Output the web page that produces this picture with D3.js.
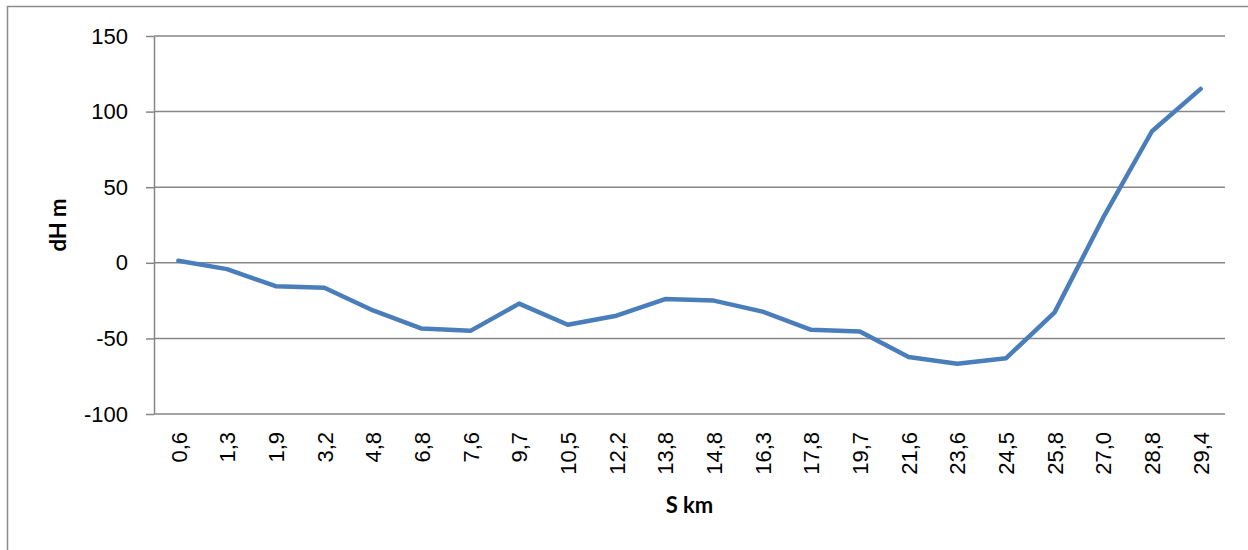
<!DOCTYPE html>
<html>
<head>
<meta charset="utf-8">
<script src="https://cdn.jsdelivr.net/npm/d3@7"></script>
<style>
  body { margin: 0; background: #fff; }
  svg { display: block; font-family: Lato, 'Open Sans', sans-serif; }
</style>
</head>
<body>
<div id="chart"></div>
<script>
const categories = ['0,6', '1,3', '1,9', '3,2', '4,8', '6,8', '7,6', '9,7', '10,5', '12,2', '13,8',
  '14,8', '16,3', '17,8', '19,7', '21,6', '23,6', '24,5', '25,8', '27,0', '28,8', '29,4'];
const dH = [1.3, -4.2, -15.5, -16.5, -31.5, -43.5, -45, -27, -41, -35, -24,
  -25, -32.3, -44.3, -45.5, -62.3, -66.7, -63.2, -32.8, 30, 87, 115];
const yTicks = [-100, -50, 0, 50, 100, 150];

const dims = { width: 1248, height: 550 };
const plot = { left: 154, right: 1225, top: 36, bottom: 414 };

const svg = d3.select('#chart')
  .append('svg')
  .attr('width', dims.width)
  .attr('height', dims.height)

// outer chart frame (cropped on right and bottom)
svg.append('rect')
  .attr('x', 7.5).attr('y', 6.5)
  .attr('width', 1300).attr('height', 600)
  .attr('fill', 'none')
  .attr('stroke', '#8c8c8c')
  .attr('stroke-width', 1.5)

const x = d3.scalePoint()
  .domain(categories)
  .range([plot.left, plot.right])
  .padding(0.5)

const y = d3.scaleLinear()
  .domain([-100, 150])
  .range([plot.bottom, plot.top])

// gridlines
svg.append('g')
  .selectAll('line')
  .data(yTicks)
  .enter().append('line')
  .attr('x1', plot.left).attr('x2', plot.right)
  .attr('y1', d => y(d)).attr('y2', d => y(d))
  .attr('stroke', '#868686')
  .attr('stroke-width', 1.5)

// y axis
const yAxis = svg.append('g')
  .attr('transform', `translate(${plot.left},0)`)
  .call(d3.axisLeft(y)
    .tickValues(yTicks)
    .tickFormat(d => String(d))
    .tickSize(8).tickPadding(18).tickSizeOuter(0))

yAxis.select('.domain').attr('stroke', '#868686').attr('stroke-width', 1.5)
yAxis.selectAll('.tick line').attr('stroke', '#868686').attr('stroke-width', 1.5)
yAxis.selectAll('text')
  .style('font-size', '22px')
  .attr('fill', '#000')

// x axis labels (no tick marks)
const xAxis = svg.append('g')
  .attr('transform', `translate(0,${plot.bottom})`)
  .call(d3.axisBottom(x).tickSize(0).tickPadding(0))

xAxis.select('.domain').remove()
xAxis.selectAll('text')
  .attr('transform', 'rotate(-90)')
  .attr('x', -18)
  .attr('y', 0)
  .attr('dy', '0.35em')
  .style('text-anchor', 'end')
  .style('font-size', '22px')
  .attr('fill', '#000')

// axis titles
svg.append('text')
  .attr('transform', `translate(66,${(plot.top + plot.bottom) / 2}) rotate(-90)`)
  .attr('text-anchor', 'middle')
  .style('font-size', '22px')
  .style('font-weight', 'bold')
  .text('dH m')

svg.append('text')
  .attr('x', (plot.left + plot.right) / 2)
  .attr('y', 513)
  .attr('text-anchor', 'middle')
  .style('font-size', '22px')
  .style('font-weight', 'bold')
  .text('S km')

// data line
const line = d3.line()
  .x((d, i) => x(categories[i]))
  .y(d => y(d))

svg.append('path')
  .datum(dH)
  .attr('d', line)
  .attr('fill', 'none')
  .attr('stroke', '#4a7ebb')
  .attr('stroke-width', 4.5)
  .attr('stroke-linejoin', 'round')
  .attr('stroke-linecap', 'round')
</script>
</body>
</html>
